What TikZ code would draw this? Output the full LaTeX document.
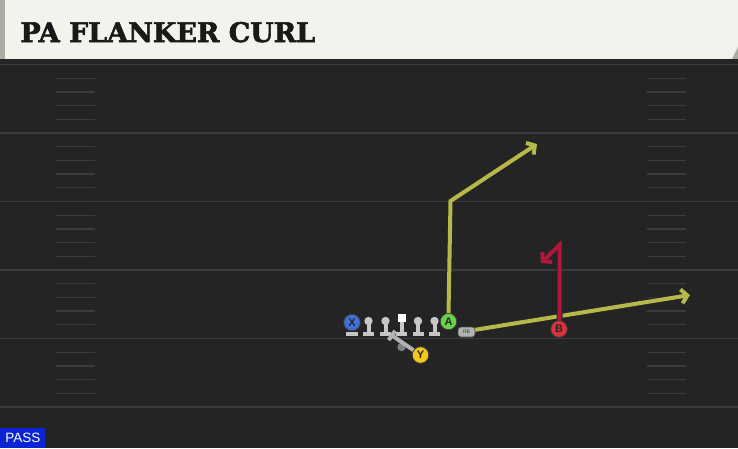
\documentclass[tikz,border=0pt]{standalone}
\usepackage{fontspec}
\usetikzlibrary{arrows.meta}
\newfontfamily\titlefont[FakeBold=2.2]{DejaVu Serif}
\newfontfamily\tagfont{Liberation Sans}

\definecolor{field}{HTML}{242424}
\definecolor{headbg}{HTML}{F4F2EC}
\definecolor{headbar}{HTML}{ABABA3}
\definecolor{yardgrey}{HTML}{3B3B3B}
\definecolor{bodygrey}{HTML}{C6C6C6}
\definecolor{xblue}{HTML}{3F6FD8}
\definecolor{agreen}{HTML}{6AD04A}
\definecolor{yyellow}{HTML}{F2C81C}
\definecolor{bred}{HTML}{E0303C}
\definecolor{olive}{HTML}{B7B84A}
\definecolor{crimson}{HTML}{B0173A}
\definecolor{passblue}{HTML}{0B24D4}

\tikzset{
  player/.style={circle,draw=black!75,line width=0.8pt,minimum size=16.5pt,
    inner sep=0pt,text=black!85,font=\tagfont\bfseries\fontsize{11}{11}\selectfont},
  route/.style={line width=4pt,
    preaction={draw=black!85,line width=6pt}},
  tip/.style={-{Straight Barb[length=6pt,width=14pt]}}
}

\begin{document}
\begin{tikzpicture}[x=1pt,y=-1pt,thick]
  \useasboundingbox (0,0) rectangle (738,448);
  \fill[field] (0,0) rectangle (738,448);

  % header
  \fill[headbg] (0,0) rectangle (738,59);
  \fill[headbar] (0,0) rectangle (5,59);
  \fill[headbar] (738,47) -- (738,59) -- (732,59) -- cycle;
  \fill[black!85] (0,59) rectangle (738,62);
  \node[anchor=base west,inner sep=0pt,text=black!90,
        font=\titlefont\bfseries\fontsize{27}{27}\selectfont]
        (title) at (20,42) {PA FLANKER CURL};

  % yard lines and hashes
  \foreach \k in {0,...,5}
    \draw[yardgrey,line width=1.6pt] (0,64.5+68.5*\k) -- (738,64.5+68.5*\k);
  \foreach \k in {0,...,4}
    \foreach \j in {1,...,4} {
      \draw[yardgrey,line width=1.3pt] (56,64.5+68.5*\k+13.7*\j) -- (95,64.5+68.5*\k+13.7*\j);
      \draw[yardgrey,line width=1.3pt] (647,64.5+68.5*\k+13.7*\j) -- (686,64.5+68.5*\k+13.7*\j);
    }

  % line
  \foreach \x in {368.5,385.5,418,434.5} {
    \fill[bodygrey] (\x,321) circle (4.2);
    \fill[bodygrey] (\x-2,321) rectangle (\x+2,332);
    \fill[bodygrey] (\x-5.5,331.5) rectangle (\x+5.5,335.5);
  }
  \fill[bodygrey] (399.6,321) rectangle (403.6,332);
  \fill[bodygrey] (396.1,331.5) rectangle (407.1,335.5);
  \fill[white] (397.6,313.8) rectangle (405.6,321.8);
  \fill[bodygrey] (346,331.5) rectangle (358,335.5);

  % block and back
  \fill[black!50] (401.5,347) circle (4.2);
  \coordinate (blk) at (392,335.5);
  \coordinate (r1) at (450.5,201);
  \coordinate (r2) at (537,144);
  \coordinate (r3) at (690,295);
  \coordinate (r4) at (559.5,245);
  \coordinate (r5) at (541,263);

  \node[player,fill=xblue]   (x) at (352,322.5) {X};
  \node[player,fill=yyellow] (y) at (420.5,355) {Y};

  \draw[black!30,line width=4pt] (y) -- (blk);
  \draw[black!30,line width=4pt] (388.6,340.1) -- (395.2,330.9);

  % routes
  \draw[route,olive,tip] (448.5,314) -- (r1) -- (r2);
  \draw[route,olive,tip] (474,330) -- (r3);
  \draw[route,crimson,tip] (559.5,322) -- (r4) -- (r5);

  \node[player,fill=agreen] (a) at (448.5,321.5) {A};
  \node[player,fill=bred]   (b) at (559,329) {B};
  \node[draw=black!70,fill=black!30,rounded corners=3pt,line width=0.6pt,
        minimum width=17pt,minimum height=10pt,inner sep=0pt,
        font=\tagfont\fontsize{5}{5}\selectfont,text=black!80]
        (rb) at (466.5,332) {RB};

  % play type
  \node[anchor=south west,fill=passblue,text=white,inner sep=0pt,
        minimum width=45pt,minimum height=20pt,
        font=\tagfont\fontsize{13.5}{13.5}\selectfont]
        (pass) at (0,448) {PASS};
\end{tikzpicture}
\end{document}
